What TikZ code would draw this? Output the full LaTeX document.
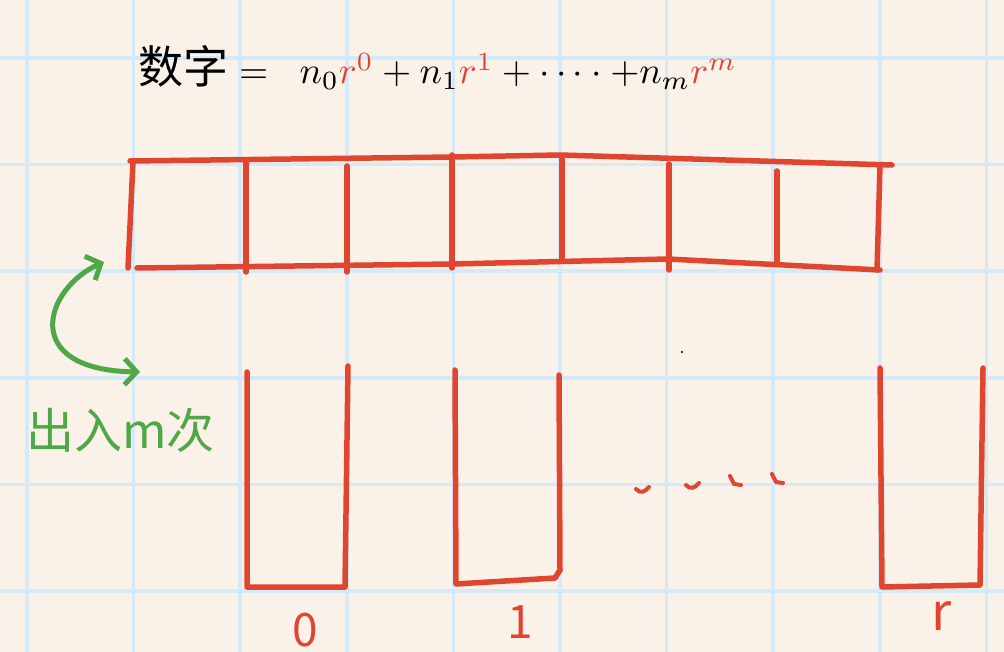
\documentclass[tikz,border=0pt]{standalone}
\usepackage{fontspec}
\newfontfamily\cjk{Noto Sans CJK SC}
\usepackage{tikz}
\usetikzlibrary{
  arrows.meta,positioning,calc
}
\definecolor{paper}{HTML}{FAF1E8}
\definecolor{gridblue}{HTML}{D4EAF9}
\definecolor{inkred}{HTML}{E0452F}
\definecolor{inkgreen}{HTML}{4FA846}

\begin{document}
\begin{tikzpicture}[x=1pt,y=-1pt,
    redline/.style={inkred,line width=5.5pt,line cap=round,line join=round},
    greenline/.style={inkgreen,line width=5pt,line cap=round,line join=round},
    gridline/.style={gridblue,line width=3.5pt}
  ]
      \fill [paper] (0,0) rectangle (1004,652);
      \useasboundingbox (0,0) rectangle (1004,652);
      \foreach \i in {0,...,9} \draw [gridline] ({27+106.6*\i},0) -- ({27+106.6*\i},652);
      \foreach \j in {0,...,5} \draw [gridline] (0,{58+106.6*\j}) -- (1004,{58+106.6*\j});
      % formula
      \node [anchor=base west,inner sep=0,scale=3.75] (sum) at (138,84) {{\cjk\fontsize{12}{13}\selectfont 数字}$\;=\;\; n_{0}{\color{inkred}r^{0}}+n_{1}{\color{inkred}r^{1}}+\cdots\cdot+n_{m}{\color{inkred}r^{m}}$};
      % row of boxes
      \draw [redline] (130,161) -- (452,157) -- (560,155) -- (892,165);
      \draw [redline] (137,268) -- (452,264) -- (668,259) -- (880,270);
      \draw [redline] (133,162) -- (128,268);
      \foreach \x/\t/\b in {246/162/272,347/166/272,452/155/268,562/159/258,669/164/270,777/171/263} \draw [redline] (\x,\t) -- (\x,\b);
      \draw [redline] (880,165) -- (877,270);
      % buckets
      \draw [redline] (247,372) -- (247,587) -- (345,587) -- (348,366);
      \draw [redline] (455,370) -- (456,584) -- (555,578) -- (560,570);
      \draw [redline] (559,375) -- (560,570);
      \draw [redline] (880,368) -- (882,587) -- (980,585) -- (983,368);
      \foreach \x/\y in {636/489,686/485} \draw [inkred,line width=4pt,line cap=round] (\x,\y) .. controls (\x+4,\y+5) and (\x+9,\y+3) .. (\x+13,\y-2);
      \foreach \x/\y in {730/476,772/474} \draw [inkred,line width=4pt,line cap=round,line join=round] (\x,\y) -- (\x+4,\y+8) -- (\x+11,\y+9);
      \fill (682,352) circle (1.2);
      \node [inkred] (lbl0) at (305,630) {\fontsize{46}{50}\selectfont\cjk 0};
      \node [inkred] (lbl1) at (520,622) {\fontsize{46}{50}\selectfont\cjk 1};
      \node [inkred] (lblr) at (942,616) {\fontsize{52}{56}\selectfont\cjk r};
      % in and out
      \coordinate (boxcorner) at (104,262);
      \coordinate (bucketin) at (140,372);
      \draw [greenline,{Straight Barb[length=12pt,width=26pt]}-{Straight Barb[length=12pt,width=26pt]}] (boxcorner) .. controls (45,288) and (18,370) .. (bucketin);
      \node [anchor=west,inkgreen,inner sep=0] (inout) at (26,430) {\fontsize{48}{52}\selectfont\cjk 出入m次};
    \end{tikzpicture}
\end{document}
